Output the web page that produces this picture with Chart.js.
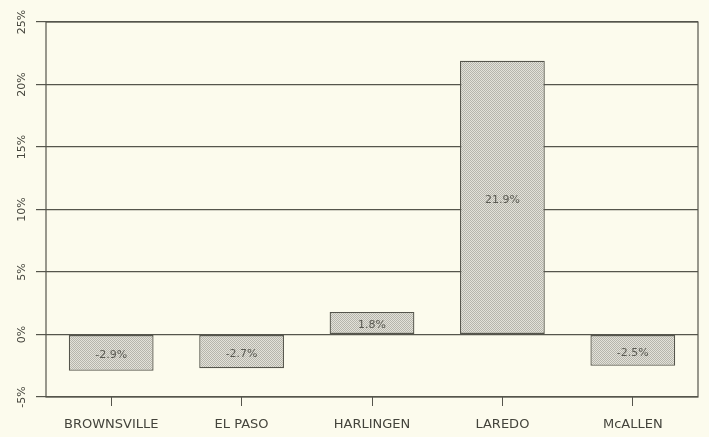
<!DOCTYPE html>
<html lang="en">
<head>
<meta charset="utf-8">
<script src="https://cdn.jsdelivr.net/npm/chart.js@4.4.0/dist/chart.umd.min.js"></script>
<style>
  html, body { margin: 0; padding: 0; background: #fcfbed; }
  #wrap { width: 709px; height: 437px; }
</style>
</head>
<body>
<div id="wrap"><canvas id="grafica"></canvas></div>
<script>
const ciudades = ['BROWNSVILLE', 'EL PASO', 'HARLINGEN', 'LAREDO', 'McALLEN']
const cambios = [-2.9, -2.7, 1.8, 21.9, -2.5]
const ejeMin = -5
const ejeMax = 25
const ejePaso = 5

const fuente = "'DejaVu Sans', sans-serif"
const gris = '#55554c'

// trama punteada de las barras
const crearTrama = () => {
    const c = document.createElement('canvas')
    c.width = 2
    c.height = 2
    const g = c.getContext('2d')
    g.fillStyle = '#e3e2d9'
    g.fillRect(0, 0, 2, 2)
    g.fillStyle = '#b6b5ac'
    g.fillRect(0, 0, 1, 1)
    g.fillRect(1, 1, 1, 1)
    return g.createPattern(c, 'repeat')
}

const marcoYEtiquetas = {
    id: 'marcoYEtiquetas',
    afterDatasetsDraw(chart) {
        const ctx = chart.ctx
        const a = chart.chartArea
        ctx.save()
        ctx.strokeStyle = gris
        ctx.lineWidth = 1.2
        ctx.strokeRect(a.left, a.top, a.right - a.left, a.bottom - a.top)
        ctx.font = '11px ' + fuente
        ctx.fillStyle = '#5a5a52'
        ctx.textAlign = 'center'
        ctx.textBaseline = 'middle'
        chart.getDatasetMeta(0).data.forEach((barra, i) => {
            // un poco por debajo del centro de la barra, como en el original
            const y = (barra.y + barra.base) / 2 + 2.5
            ctx.fillText(cambios[i].toFixed(1) + '%', barra.x, y)
        })
        ctx.restore()
    }
}

new Chart(document.querySelector('#grafica'), {
    type: 'bar',
    data: {
        labels: ciudades,
        datasets: [{
            data: cambios,
            backgroundColor: crearTrama(),
            borderColor: gris,
            borderWidth: 1.3,
            borderSkipped: false,
            categoryPercentage: 1,
            barPercentage: 0.65
        }]
    },
    options: {
        responsive: true,
        maintainAspectRatio: false,
        animation: false,
        layout: { padding: { top: 22, right: 11, left: 0, bottom: 0 } },
        plugins: {
            legend: { display: false },
            tooltip: { enabled: false }
        },
        scales: {
            x: {
                grid: { display: true, drawOnChartArea: false, offset: false, color: gris, tickLength: 9 },
                border: { display: false },
                ticks: { color: '#44443c', font: { family: fuente, size: 13 }, padding: 11, maxRotation: 0 },
                afterFit: escala => { escala.height = 40 }
            },
            y: {
                min: ejeMin,
                max: ejeMax,
                grid: { color: gris, lineWidth: 1.2, tickLength: 10 },
                border: { display: false },
                ticks: {
                    stepSize: ejePaso,
                    minRotation: 90,
                    maxRotation: 90,
                    crossAlign: 'center',
                    color: '#44443c',
                    font: { family: fuente, size: 11 },
                    padding: 2,
                    callback: v => v + '%'
                },
                afterFit: escala => { escala.width = 46 }
            }
        }
    },
    plugins: [marcoYEtiquetas]
})
</script>
</body>
</html>
